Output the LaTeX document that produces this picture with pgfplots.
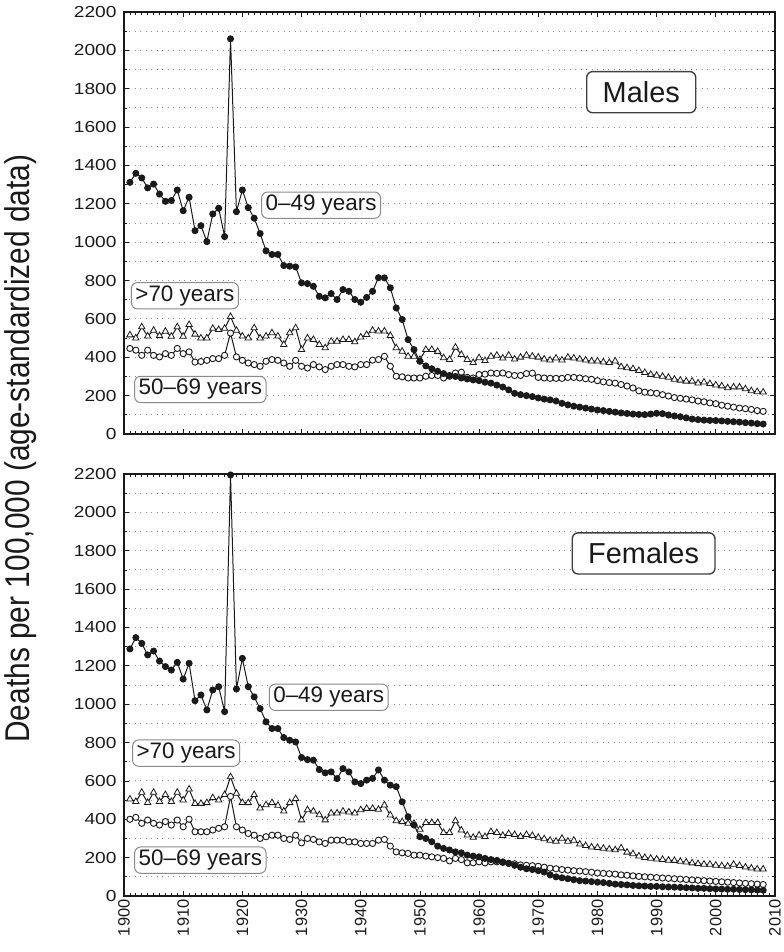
\documentclass[border=0pt]{standalone}
\usepackage{fontspec}
\setmainfont{Liberation Sans}
\newfontfamily\tickfont{Liberation Sans}[FakeStretch=1.2]
\usepackage{graphicx}
\usepackage{pgfplots}
\pgfplotsset{compat=1.18}
\usepackage{pgfplotstable}

% year, a = 0-49 years, b = >70 years, c = 50-69 years
\pgfplotstableread{
year a b c
1901 1312 516 446
1902 1359 500 437
1903 1335 558 410
1904 1283 510 437
1905 1303 540 410
1906 1251 512 402
1907 1213 535 419
1908 1217 509 410
1909 1272 558 446
1910 1164 509 419
1911 1234 570 428
1912 1060 520 375
1913 1086 500 378
1914 1003 500 384
1915 1147 550 393
1916 1177 544 393
1917 1029 550 410
1918 2060 612 526
1919 1159 540 402
1920 1272 510 384
1921 1180 500 370
1922 1125 553 362
1923 1045 500 353
1924 955 510 379
1925 936 527 388
1926 936 510 384
1927 878 466 370
1928 875 527 353
1929 871 553 384
1930 788 440 353
1931 784 500 344
1932 770 492 362
1933 718 466 350
1934 710 449 336
1935 732 483 353
1936 701 483 362
1937 753 492 362
1938 744 492 353
1939 701 480 350
1940 687 505 362
1941 712 518 362
1942 744 540 385
1943 815 536 388
1944 814 536 405
1945 762 513 353
1946 657 449 301
1947 597 431 298
1948 492 405 292
1949 440 405 292
1950 379 388 292
1951 355 440 301
1952 340 440 305
1953 327 430 305
1954 315 397 292
1955 305 388 301
1956 300 452 318
1957 292 414 322
1958 287 388 295
1959 282 372 292
1960 278 397 310
1961 270 382 312
1962 265 405 318
1963 255 410 316
1964 245 395 318
1965 230 410 310
1966 212 390 305
1967 205 400 305
1968 200 410 315
1969 195 405 317
1970 188 400 295
1971 182 390 292
1972 178 385 290
1973 172 395 290
1974 160 385 290
1975 152 400 295
1976 145 395 295
1977 140 390 292
1978 135 385 288
1979 130 380 285
1980 125 380 278
1981 122 375 272
1982 118 372 268
1983 114 380 265
1984 110 350 258
1985 107 345 250
1986 104 340 240
1987 102 330 225
1988 101 320 218
1989 104 310 215
1990 108 305 212
1991 106 300 205
1992 99 295 198
1993 94 285 190
1994 90 280 186
1995 84 275 182
1996 78 275 178
1997 75 265 172
1998 72 270 168
1999 71 262 162
2000 70 255 158
2001 68 250 150
2002 66 240 145
2003 64 245 140
2004 62 245 135
2005 59 235 132
2006 57 225 128
2007 54 220 122
2008 52 218 118
}\males

\pgfplotstableread{
year a b c
1901 1288 505 400
1902 1347 492 410
1903 1317 540 379
1904 1257 487 396
1905 1277 540 379
1906 1225 492 370
1907 1196 528 388
1908 1178 492 370
1909 1218 540 396
1910 1131 500 361
1911 1213 557 400
1912 1018 482 335
1913 1048 482 335
1914 970 486 335
1915 1074 512 344
1916 1091 500 353
1917 961 528 361
1918 2195 621 519
1919 1079 535 361
1920 1239 487 344
1921 1091 486 326
1922 1038 528 317
1923 977 458 300
1924 908 475 309
1925 873 486 317
1926 873 472 317
1927 826 442 300
1928 812 486 295
1929 803 507 317
1930 722 396 277
1931 711 449 300
1932 708 442 295
1933 659 423 282
1934 642 396 274
1935 647 432 291
1936 612 432 291
1937 664 442 291
1938 647 437 282
1939 595 432 282
1940 586 449 274
1941 604 456 274
1942 613 456 274
1943 657 451 291
1944 604 474 295
1945 578 422 260
1946 570 392 230
1947 491 387 225
1948 413 378 222
1949 370 378 213
1950 309 347 213
1951 300 382 208
1952 283 382 204
1953 260 382 200
1954 248 330 196
1955 240 330 183
1956 230 392 196
1957 225 343 190
1958 213 317 173
1959 208 305 173
1960 204 317 178
1961 196 309 173
1962 190 335 178
1963 185 330 178
1964 178 315 175
1965 170 325 170
1966 160 320 168
1967 150 310 162
1968 142 320 160
1969 138 315 158
1970 132 305 155
1971 125 298 150
1972 110 290 145
1973 100 285 142
1974 95 300 138
1975 90 285 135
1976 85 290 132
1977 80 270 130
1978 78 262 127
1979 75 255 124
1980 72 252 120
1981 70 248 118
1982 66 244 116
1983 62 240 114
1984 60 250 110
1985 58 228 108
1986 55 220 105
1987 53 208 102
1988 52 200 100
1989 50 196 98
1990 50 192 96
1991 48 190 94
1992 47 186 92
1993 46 185 90
1994 45 180 88
1995 43 176 86
1996 42 172 84
1997 40 168 82
1998 40 165 80
1999 38 165 78
2000 37 160 76
2001 36 157 74
2002 35 155 72
2003 35 165 70
2004 34 158 68
2005 33 150 66
2006 32 145 64
2007 31 140 62
2008 30 140 60
}\females

\definecolor{ink}{HTML}{1A1A1A}
\definecolor{boxline}{HTML}{8A8A8A}

\tikzset{
  lbl/.style={draw=boxline, line width=1bp, rounded corners=6bp, fill=white,
    inner xsep=4bp, inner ysep=3bp, font=\fontsize{22.5}{24}\selectfont, text=ink},
  ttl/.style={draw=black!75, line width=1.4bp, rounded corners=6bp, fill=white,
    inner xsep=16bp, inner ysep=10bp, font=\fontsize{29}{32}\selectfont, text=ink},
}

\begin{document}
\begin{tikzpicture}
\path[use as bounding box] (-124bp,-518bp) rectangle (660bp,434bp);
\pgfplotsset{
  panel/.style={
    scale only axis, width=651bp, height=422bp,
    xmin=1900, xmax=2010, ymin=0, ymax=2200,
    xtick={1900,1910,...,2010}, minor x tick num=9,
    ytick={0,200,...,2200}, minor y tick num=1,
    ymajorgrids, yminorgrids,
    major grid style={black!45, line width=0.9bp, dash pattern=on 0.9bp off 4.6bp},
    minor grid style={black!45, line width=0.9bp, dash pattern=on 0.9bp off 4.6bp},
    axis line style={line width=1.4bp, ink},
    major tick length=5bp, minor tick length=3bp,
    every tick/.style={ink, line width=0.8bp},
    yticklabel style={font=\tickfont\fontsize{16}{18}\selectfont, text=ink, xshift=-4bp},
    xticklabel style={font=\fontsize{16.5}{18}\selectfont, text=ink},
    /pgf/number format/assume math mode=true,
    /pgf/number format/1000 sep={},
    clip=false,
  },
  ser a/.style={ink, line width=1bp, mark=*, mark size=3bp, mark options={fill=ink, draw=ink}},
  ser b/.style={ink, line width=1bp, mark=triangle*, mark size=3.7bp, mark options={fill=white, draw=ink, line width=0.8bp}},
  ser c/.style={ink, line width=1bp, mark=*, mark size=3.1bp, mark options={fill=white, draw=ink, line width=0.9bp}},
}

\begin{axis}[panel, at={(0bp,0bp)}, anchor=south west, xticklabels={}]
\addplot[ser b] table[x=year, y=b] {\males};
\addplot[ser c] table[x=year, y=c] {\males};
\addplot[ser a] table[x=year, y=a] {\males};
\node[ttl] at (axis cs:1987.4,1782) {Males};
\node[lbl] at (axis cs:1933.3,1193) {0–49 years};
\node[lbl] at (axis cs:1910.3,721) {>70 years};
\node[lbl] at (axis cs:1912.9,232) {50–69 years};
\end{axis}

\begin{axis}[panel, at={(0bp,-40bp)}, anchor=north west,
  xticklabel style={rotate=90, anchor=east}]
\addplot[ser b] table[x=year, y=b] {\females};
\addplot[ser c] table[x=year, y=c] {\females};
\addplot[ser a] table[x=year, y=a] {\females};
\node[ttl] at (axis cs:1987.8,1786) {Females};
\node[lbl] at (axis cs:1934.6,1036) {0–49 years};
\node[lbl] at (axis cs:1910.5,745) {>70 years};
\node[lbl] at (axis cs:1912.9,187) {50–69 years};
\end{axis}

\node[rotate=90, font=\fontsize{30}{34}\selectfont, text=ink] at (-103bp,-14.5bp) {\scalebox{1}[1.15]{Deaths per 100,000 (age-standardized data)}};
\end{tikzpicture}
\end{document}
